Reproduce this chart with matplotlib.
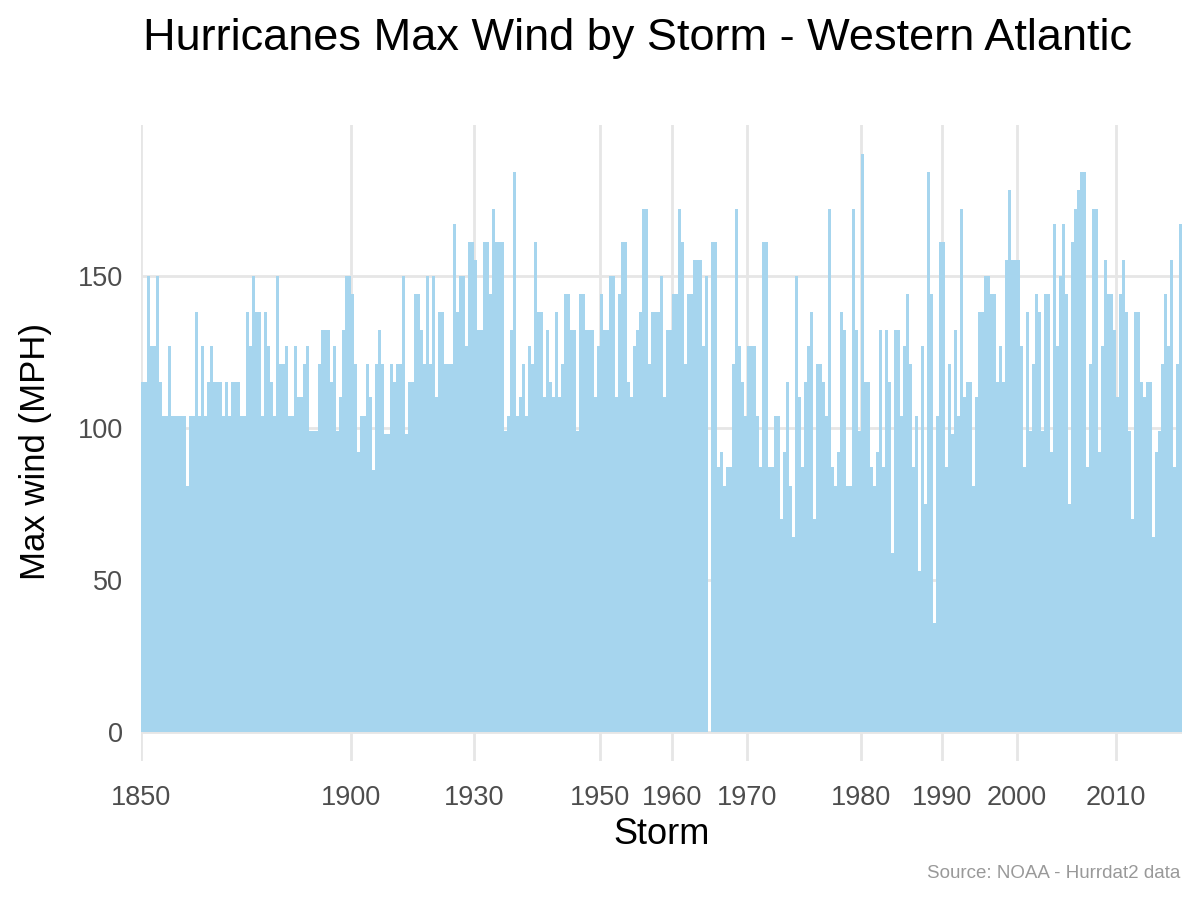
import numpy as np
import matplotlib
matplotlib.use('Agg')
import matplotlib.pyplot as plt

plt.rcParams['font.family'] = ['Liberation Sans', 'DejaVu Sans']

# max wind (mph) per storm in storm order
wind_a = [115, 115, 150, 127, 127, 150, 115, 104, 104, 127,
          104, 104, 104, 104, 104, 81, 104, 104, 138, 104,
          127, 104, 115, 127, 115, 115, 115, 104, 115, 104,
          115, 115, 115, 104, 104, 138, 127, 150, 138, 138,
          104, 138, 127, 115, 104, 150, 121, 121, 127, 104,
          104, 127, 110, 110, 121, 127, 99, 99, 99]
wind_b = [121, 132, 132, 132, 115, 127, 99, 110, 132, 150,
          150, 144, 121, 92, 104, 104, 121, 110, 86, 121,
          132, 121, 98, 98, 121, 115, 121, 121, 150, 98,
          115, 115, 144, 144, 132, 121, 150, 121, 150, 110,
          138, 138, 121, 121, 121, 167, 138, 150, 150, 127,
          161, 161, 155, 132, 132, 161, 161, 144, 172]
wind_c = [161, 161, 161, 99, 104, 132, 184, 104, 110, 121,
          104, 127, 121, 161, 138, 138, 110, 132, 115, 110,
          138, 110, 121, 144, 144, 132, 132, 99, 144, 144,
          132, 132, 132, 110, 127, 144, 132, 132, 150, 150,
          110, 144, 161, 161, 115, 110, 127, 132, 138, 172,
          172, 121, 138, 138, 138, 150, 110, 132]
wind_d = [132, 144, 144, 172, 161, 121, 144, 144, 155, 155,
          155, 127, 150, 0, 161, 161, 87, 92, 81, 87,
          87, 121, 172, 127, 115, 104, 127, 127, 127, 104,
          87, 161, 161, 87, 87, 104, 104, 70, 92, 115,
          81, 64, 150, 110, 87, 115, 127, 138, 70, 121,
          121, 115, 104, 172, 87, 81, 92, 138]
wind_e = [132, 81, 81, 172, 132, 99, 190, 115, 115, 87,
          81, 92, 132, 87, 132, 115, 59, 132, 132, 104,
          127, 144, 121, 87, 104, 53, 127, 75, 184, 144,
          36, 104, 161, 161, 87, 121, 98, 132, 104, 172,
          110, 115, 115, 81, 110, 138, 138, 150, 150, 144,
          144, 115, 127, 115, 155, 178, 155, 155, 155]
wind_f = [127, 87, 138, 99, 121, 144, 138, 99, 144, 144,
          92, 167, 127, 150, 167, 144, 75, 161, 172, 178,
          184, 184, 87, 121, 172, 172, 92, 127, 155, 144,
          144, 132, 110, 144, 155, 138, 99, 70, 138, 138,
          115, 110, 115, 115, 64, 92, 99, 121, 144, 127,
          155, 87, 121, 167]

# storm index where each labelled year starts
year_pos = [0, 70, 111, 153, 177, 202, 240, 267, 292, 325]
year_lab = ['1850', '1900', '1930', '1950', '1960', '1970', '1980', '1990', '2000', '2010']

wind = np.array(wind_a + wind_b + wind_c + wind_d + wind_e + wind_f)
storm = np.arange(len(wind))

fig = plt.figure(figsize=(12, 9), dpi=100)
ax = fig.add_axes([0.1175, 0.1544, 0.8675, 0.7067])

ax.bar(storm, wind, width=1.0, align='edge', color='#a6d5ee', linewidth=0, zorder=2)

ax.set_xlim(0, len(wind))
ax.set_ylim(-9.5, 199.5)
ax.set_xticks(year_pos)
ax.set_xticklabels(year_lab)
ax.set_yticks([0, 50, 100, 150])
ax.grid(True, color='#e6e6e6', linewidth=2.0, zorder=0)
ax.set_axisbelow(True)
for s in ax.spines.values():
    s.set_visible(False)
ax.tick_params(length=0, labelsize=19.5, labelcolor='#4d4d4d')
ax.tick_params(axis='y', pad=13)
ax.tick_params(axis='x', pad=17)

ax.set_xlabel('Storm', fontsize=26, va='center')
ax.xaxis.set_label_coords(0.5, -0.115)
ax.set_ylabel('Max wind (MPH)', fontsize=25, va='center')
ax.yaxis.set_label_coords(-0.101, 0.487)

fig.text(0.531, 0.957, 'Hurricanes Max Wind by Storm - Western Atlantic',
         fontsize=32.5, ha='center', va='center')
fig.text(0.984, 0.030, 'Source: NOAA - Hurrdat2 data', fontsize=13.5,
         color='#999999', ha='right', va='center')

plt.savefig('out.png', dpi=100)
plt.close()
